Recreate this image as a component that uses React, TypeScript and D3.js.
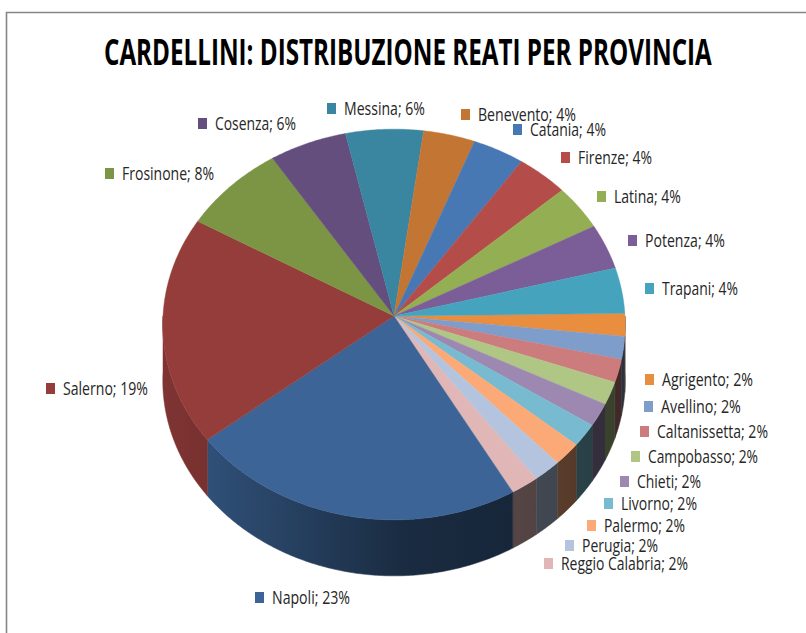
import React from 'react';
import * as d3 from 'd3';

const title = 'CARDELLINI: DISTRIBUZIONE REATI PER PROVINCIA';
const provinces = ['Agrigento', 'Avellino', 'Caltanissetta', 'Campobasso', 'Chieti', 'Livorno', 'Palermo', 'Perugia', 'Reggio Calabria', 'Napoli', 'Salerno', 'Frosinone', 'Cosenza', 'Messina', 'Benevento', 'Catania', 'Firenze', 'Latina', 'Potenza', 'Trapani'];
const counts = [1, 1, 1, 1, 1, 1, 1, 1, 1, 12, 10, 4, 3, 3, 2, 2, 2, 2, 2, 2];
const colors = ['#e98d3f', '#7f9dcb', '#cc7c7c', '#afc685', '#9d88b2', '#78bacf', '#fba976', '#b4c4de', '#e0b6b6', '#3c6496', '#953d3b', '#7c9544', '#644e7e', '#3a86a0', '#c37534', '#4778b4', '#b44c4a', '#93ae53', '#7b5e98', '#45a3be'];

// layout of the labels, same order as provinces: marker x, centre y, text width
const labelX = [645, 644, 640, 631, 620, 604, 587, 565, 544, 255, 46, 105, 198, 327, 461, 513, 561, 597, 628, 645];
const labelY = [379, 406, 431, 456, 481, 503, 525, 545, 563, 597, 388, 173, 123, 108, 114, 129, 157, 196, 240, 288];
const labelW = [91, 80, 111, 110, 64, 76, 81, 76, 127, 78, 85, 92, 81, 81, 98, 76, 74, 67, 80, 76];

const width = 806;
const height = 633;
const cx = 394;
const cy = 316;
const rx = 231;
const ry = 195;
const tilt = 0.0435; // perspective, the near edge looks bigger
const depth = 56;
const rotation = (89.2 * Math.PI) / 180;

// wall shading across the pie, dark towards the right
const shadeX = [162, 208, 400, 514, 625];
const shadeK = [0.85, 0.8, 0.44, 0.38, 0.32];

const rim = (a: number): [number, number] => {
  const u = Math.sin(a);
  const v = -Math.cos(a);
  const w = 1 - tilt * v;
  return [cx + (rx * u) / w, cy + (ry * v) / w];
};

const rimPoints = (a0: number, a1: number) => {
  const n = Math.max(2, Math.ceil((a1 - a0) / 0.01));
  return d3.range(n + 1).map((i) => rim(a0 + ((a1 - a0) * i) / n));
};

const line = d3.line();
const pct = (v: number, total: number) => `${Math.round((v / total) * 100)}%`;

const scaleColor = (c: string, k: number) => {
  const rgb = d3.rgb(c);
  return d3.rgb(rgb.r * k, rgb.g * k, rgb.b * k).formatHex();
};

// no narrow font installed, so squeeze the text horizontally to the wanted width
const ctx = document.createElement('canvas').getContext('2d')!;
const squeeze = (s: string, font: string, w: number) => {
  ctx.font = font;
  return w / ctx.measureText(s).width;
};

export default function App() {
  const total = d3.sum(counts);
  const arcs = d3.pie<number>().sort(null).startAngle(rotation).endAngle(rotation + 2 * Math.PI)(counts);

  return (
    <svg width={width} height={height} style={{ position: 'absolute', left: 0, top: 0, background: '#fff' }} fontFamily='"Open Sans", sans-serif'>
      <defs>
        {colors.map((c, i) => (
          <linearGradient key={i} id={`wall${i}`} gradientUnits="userSpaceOnUse" x1={shadeX[0]} x2={shadeX[shadeX.length - 1]} y1={0} y2={0}>
            {shadeX.map((x, j) => (
              <stop key={j} offset={(x - shadeX[0]) / (shadeX[shadeX.length - 1] - shadeX[0])} stopColor={scaleColor(c, shadeK[j])} />
            ))}
          </linearGradient>
        ))}
      </defs>

      {/* frame, open on the right and at the bottom */}
      <path d={`M6.5,${height}V12.5H${width}`} fill="none" stroke="#868686" strokeWidth={1.6} />

      <text
        transform={`translate(104,65) scale(${squeeze(title, '700 35px "Open Sans"', 608)},1)`}
        fontSize={35}
        fontWeight={700}
        fill="#000"
      >
        {title}
      </text>

      {/* side walls, lower half only */}
      {arcs.map((d, i) => {
        const a0 = Math.max(d.startAngle, Math.PI / 2);
        const a1 = Math.min(d.endAngle, (3 * Math.PI) / 2);
        if (a1 <= a0) return null;
        const top = rimPoints(a0, a1);
        const bottom = top.map(([x, y]) => [x, y + depth] as [number, number]).reverse();
        return <path key={i} d={line([...top, ...bottom]) + 'Z'} fill={`url(#wall${i})`} stroke={`url(#wall${i})`} strokeWidth={0.5} />;
      })}

      {/* top face */}
      {arcs.map((d, i) => (
        <path key={i} d={line([[cx, cy], ...rimPoints(d.startAngle, d.endAngle)]) + 'Z'} fill={colors[i]} stroke={colors[i]} strokeWidth={0.4} />
      ))}

      {/* labels */}
      {provinces.map((p, i) => {
        const s = `${p}; ${pct(counts[i], total)}`;
        return (
          <g key={p}>
            <rect x={labelX[i]} y={labelY[i] - 5} width={9} height={11} fill={colors[i]} />
            <text
              transform={`translate(${labelX[i] + 17},${labelY[i] + 7}) scale(${squeeze(s, '18.5px "Open Sans"', labelW[i])},1)`}
              fontSize={18.5}
              fill="#262626"
            >
              {s}
            </text>
          </g>
        );
      })}
    </svg>
  );
}
